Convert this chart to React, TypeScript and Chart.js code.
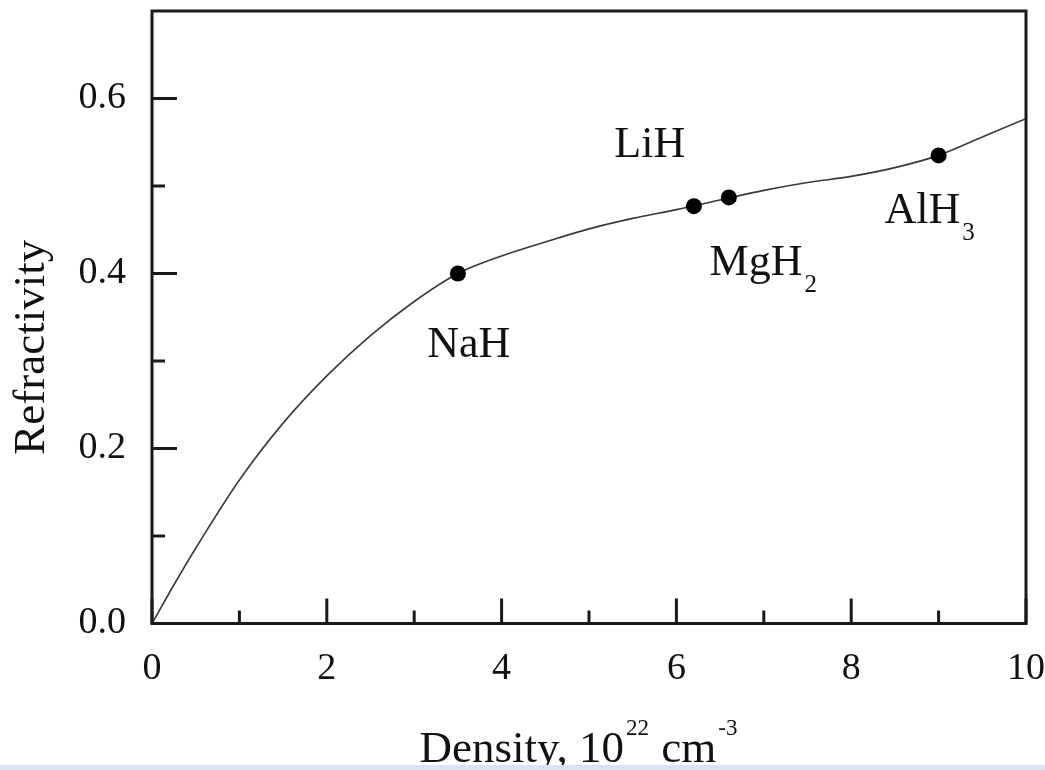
import React, { useEffect, useRef } from 'react';
import { Chart, registerables } from 'chart.js';

Chart.register(...registerables);

// Fitted curve (density in 10^22 cm^-3, refractivity)
const curveX = [0, 0.25, 0.5, 1.0, 1.5, 2.0, 2.5, 3.0, 3.5, 4.0, 4.5, 5.0, 5.5, 6.0, 6.5, 7.0, 7.5, 8.0, 8.5, 9.0, 9.5, 10];
const curveY = [0, 0.044, 0.086, 0.164, 0.229, 0.283, 0.329, 0.368, 0.4, 0.42, 0.436, 0.451, 0.463, 0.473, 0.484, 0.495, 0.504, 0.511, 0.521, 0.535, 0.556, 0.577];

// Compounds (filled dots)
const compoundX = [3.5, 6.2, 6.6, 9.0];
const compoundY = [0.4, 0.477, 0.487, 0.535];

// Annotation labels (data coordinates of the text baseline start)
const labelMain = ['NaH', 'LiH', 'MgH', 'AlH'];
const labelSub = ['', '', '2', '3'];
const labelX = [3.15, 5.29, 6.38, 8.38];
const labelY = [0.305, 0.533, 0.398, 0.458];

// Axis ticks
const xMajor = [0, 2, 4, 6, 8, 10];
const xTickLabels = ['0', '2', '4', '6', '8', '10'];
const yMajor = [0, 0.2, 0.4, 0.6];
const yTickLabels = ['0.0', '0.2', '0.4', '0.6'];

const FONT = "'Liberation Serif', 'Times New Roman', Times, serif";
const INK = '#111';

function matchIdx(arr: number[], v: number) {
  for (let i = 0; i < arr.length; i++) if (Math.abs(arr[i] - v) < 1e-6) return i;
  return -1;
}

const decorPlugin = {
  id: 'decor',
  afterDraw(chart: any) {
    const { ctx, chartArea } = chart;
    const { left, right, top, bottom } = chartArea;
    const xs = chart.scales.x;
    const ys = chart.scales.y;
    ctx.save();
    // frame
    ctx.strokeStyle = '#1a1a1a';
    ctx.lineWidth = 3;
    ctx.strokeRect(left, top, right - left, bottom - top);
    // inward ticks
    xs.ticks.forEach((t: any) => {
      const px = xs.getPixelForValue(t.value);
      const len = matchIdx(xMajor, t.value) >= 0 ? 25 : 13;
      ctx.beginPath();
      ctx.moveTo(px, bottom);
      ctx.lineTo(px, bottom - len);
      ctx.stroke();
    });
    ys.ticks.forEach((t: any) => {
      if (Math.abs(t.value - 0.7) < 1e-6) return;
      const py = ys.getPixelForValue(t.value);
      const len = matchIdx(yMajor, t.value) >= 0 ? 25 : 13;
      ctx.beginPath();
      ctx.moveTo(left, py);
      ctx.lineTo(left + len, py);
      ctx.stroke();
    });

    // annotations
    ctx.fillStyle = INK;
    ctx.textAlign = 'left';
    ctx.textBaseline = 'alphabetic';
    labelMain.forEach((txt, i) => {
      const px = xs.getPixelForValue(labelX[i]);
      const py = ys.getPixelForValue(labelY[i]);
      ctx.font = `44px ${FONT}`;
      ctx.fillText(txt, px, py);
      if (labelSub[i]) {
        const w = ctx.measureText(txt).width;
        ctx.font = `25px ${FONT}`;
        ctx.fillText(labelSub[i], px + w + 2, py + 17);
      }
    });

    // x axis title with superscripts
    const cx = (left + right) / 2 - 10;
    const baseY = 762;
    const parts: [string, boolean][] = [['Density, 10', false], ['22', true], [' cm', false], ['-3', true]];
    let total = 0;
    const widths: number[] = [];
    parts.forEach(([t, sup]) => {
      ctx.font = sup ? `23px ${FONT}` : `45px ${FONT}`;
      const w = ctx.measureText(t).width + (sup ? 3 : 0);
      widths.push(w);
      total += w;
    });
    let x = cx - total / 2;
    parts.forEach(([t, sup], i) => {
      ctx.font = sup ? `23px ${FONT}` : `45px ${FONT}`;
      ctx.fillText(t, x + (sup ? 2 : 0), sup ? baseY - 27 : baseY);
      x += widths[i];
    });

    // y axis title
    ctx.save();
    ctx.translate(44, (top + bottom) / 2 + 30);
    ctx.rotate(-Math.PI / 2);
    ctx.textAlign = 'center';
    ctx.font = `45px ${FONT}`;
    ctx.fillText('Refractivity', 0, 0);
    ctx.restore();

    ctx.restore();
  },
};

export default function App() {
  const ref = useRef<HTMLCanvasElement | null>(null);
  useEffect(() => {
    if (!ref.current) return;
    const chart = new Chart(ref.current, {
      type: 'scatter',
      data: {
        datasets: [
          {
            label: 'curve',
            data: curveX.map((x, i) => ({ x, y: curveY[i] })),
            showLine: true,
            borderColor: '#3a3a3a',
            borderWidth: 1.6,
            pointRadius: 0,
            cubicInterpolationMode: 'monotone',
            fill: false,
            order: 2,
          } as any,
          {
            label: 'compounds',
            data: compoundX.map((x, i) => ({ x, y: compoundY[i] })),
            pointRadius: 8,
            pointBackgroundColor: '#000',
            pointBorderWidth: 0,
            order: 1,
          } as any,
        ],
      },
      options: {
        responsive: false,
        animation: false,
        devicePixelRatio: 1,
        layout: { padding: { top: 11, right: 19, left: 0, bottom: 0 } },
        plugins: { legend: { display: false }, tooltip: { enabled: false } },
        scales: {
          x: {
            type: 'linear',
            min: 0,
            max: 10,
            grid: { display: false, drawTicks: false },
            border: { display: false },
            ticks: {
              stepSize: 1,
              autoSkip: false,
              maxRotation: 0,
              padding: 23,
              color: INK,
              font: { family: FONT, size: 38 },
              callback: (v: any) => {
                const i = matchIdx(xMajor, Number(v));
                return i >= 0 ? xTickLabels[i] : '';
              },
            },
            afterFit: (s: any) => {
              s.height = 146.5;
              s.paddingLeft = 0;
              s.paddingRight = 0;
            },
          },
          y: {
            type: 'linear',
            min: 0,
            max: 0.7,
            grid: { display: false, drawTicks: false },
            border: { display: false },
            ticks: {
              stepSize: 0.1,
              autoSkip: false,
              padding: 26,
              color: INK,
              font: { family: FONT, size: 38 },
              callback: (v: any) => {
                const i = matchIdx(yMajor, Number(v));
                return i >= 0 ? yTickLabels[i] : '';
              },
            },
            afterFit: (s: any) => {
              s.width = 152;
              s.paddingTop = 0;
              s.paddingBottom = 0;
            },
          },
        },
      },
      plugins: [decorPlugin],
    });
    return () => chart.destroy();
  }, []);

  return (
    <div style={{ position: 'fixed', left: 0, top: 0, width: 1045, height: 770, background: '#fff', overflow: 'hidden' }}>
      <canvas ref={ref} width={1045} height={770} style={{ display: 'block' }} />
      <div style={{ position: 'absolute', left: 0, top: 765, width: 1045, height: 5, background: '#d6e4f4' }} />
    </div>
  );
}
